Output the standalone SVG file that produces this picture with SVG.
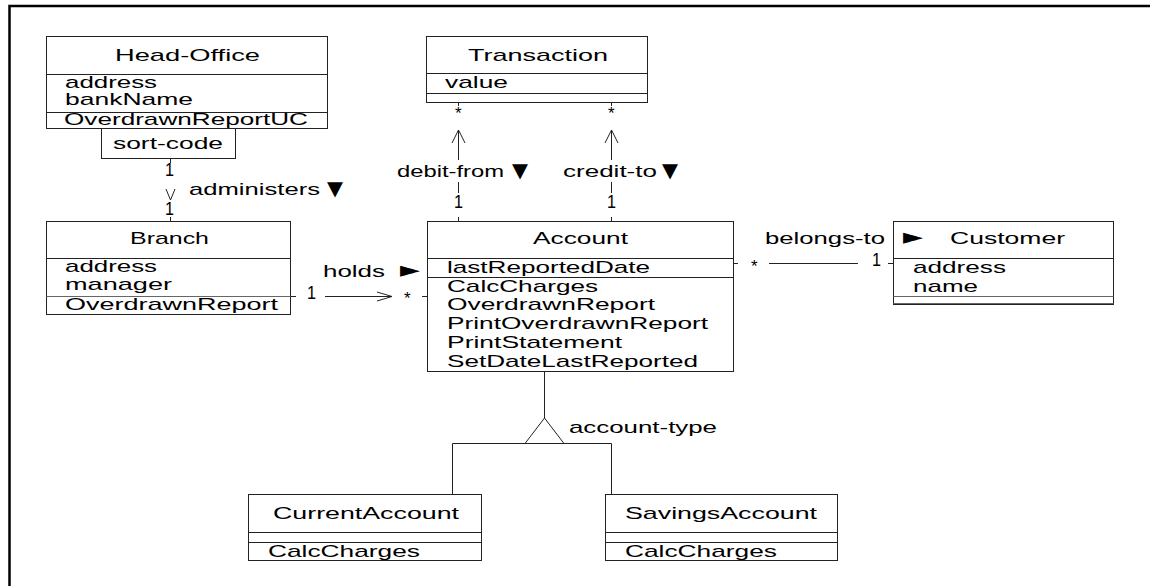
<svg xmlns="http://www.w3.org/2000/svg" width="1150" height="586" viewBox="0 0 1150 586">
<style>
.t{font-family:"Liberation Sans",Arial,sans-serif;font-size:17px;fill:#000}
.s{font-family:"DejaVu Sans","Liberation Sans",sans-serif;fill:#000}
.m{font-family:"Liberation Sans",Arial,sans-serif;font-size:18px;fill:#000}
.box{fill:#fff;stroke:#222;stroke-width:1}
.ln{stroke:#222;stroke-width:1;fill:none}
.g{stroke:#666;stroke-width:1;fill:none}
.frame{stroke:#000;stroke-width:2.5;fill:none}
</style>
<rect width="1150" height="586" fill="#fff"/>
<path class="frame" d="M9.5,586 V6 H1150"/>

<g id="connectors">
  <path class="ln" d="M170.5,158 V163 M170.5,217 V221"/>
  <path class="ln" d="M166,189 L170.5,200 L175,189"/>
  <path class="ln" d="M458.5,102 V106 M458.5,130 V160 M458.5,182 V193 M458.5,217 V221"/>
  <path class="ln" d="M452,143 L458.5,130 L465,143"/>
  <path class="ln" d="M611.5,102 V106 M611.5,130 V160 M611.5,182 V193 M611.5,217 V221"/>
  <path class="ln" d="M605,143 L611.5,130 L618,143"/>
  <path class="ln" d="M290,296.5 H296 M325,296.5 H392 M422,296.5 H427"/>
  <path class="ln" d="M377,292 L392,296.5 L377,301"/>
  <path class="ln" d="M733,263.5 H738 M769,263.5 H858 M888,263.5 H893"/>
  <path class="ln" d="M544.5,372 V418 M452.5,494 V443.5 H611.5 V494"/>
  <polygon points="544.5,418 525,443.5 564,443.5" fill="#fff" stroke="#222" stroke-width="1"/>
</g>

<g id="head-office">
  <rect class="box" x="46.5" y="36.5" width="281" height="92"/>
  <path class="ln" d="M46.5,74.5 H327.5 M46.5,112.5 H327.5"/>
  <text class="t" x="115" y="61" textLength="145" lengthAdjust="spacingAndGlyphs">Head-Office</text>
  <text class="t" x="65" y="88" textLength="92" lengthAdjust="spacingAndGlyphs">address</text>
  <text class="t" x="65" y="105" textLength="128" lengthAdjust="spacingAndGlyphs">bankName</text>
  <text class="t" x="64" y="125" textLength="244" lengthAdjust="spacingAndGlyphs">OverdrawnReportUC</text>
  <rect class="box" x="101.5" y="128.5" width="134" height="30"/>
  <text class="t" x="113" y="149" textLength="110" lengthAdjust="spacingAndGlyphs">sort-code</text>
</g>

<g id="transaction">
  <rect class="box" x="426.5" y="36.5" width="221" height="66"/>
  <path class="ln" d="M426.5,73.5 H647.5 M426.5,93.5 H647.5"/>
  <text class="t" x="468" y="61" textLength="140" lengthAdjust="spacingAndGlyphs">Transaction</text>
  <text class="t" x="445" y="88" textLength="63" lengthAdjust="spacingAndGlyphs">value</text>
</g>

<g id="branch">
  <rect class="box" x="46.5" y="221.5" width="244" height="93"/>
  <path class="ln" d="M46.5,258.5 H290.5"/>
  <path class="g" d="M46.5,296.5 H290.5"/>
  <text class="t" x="130" y="244" textLength="79" lengthAdjust="spacingAndGlyphs">Branch</text>
  <text class="t" x="65" y="272" textLength="92" lengthAdjust="spacingAndGlyphs">address</text>
  <text class="t" x="65" y="290" textLength="107" lengthAdjust="spacingAndGlyphs">manager</text>
  <text class="t" x="65" y="310" textLength="213" lengthAdjust="spacingAndGlyphs">OverdrawnReport</text>
</g>

<g id="account">
  <rect class="box" x="427.5" y="221.5" width="306" height="150"/>
  <path class="ln" d="M427.5,258.5 H733.5 M427.5,277.5 H733.5"/>
  <text class="t" x="533" y="244" textLength="95" lengthAdjust="spacingAndGlyphs">Account</text>
  <text class="t" x="447" y="273" textLength="203" lengthAdjust="spacingAndGlyphs">lastReportedDate</text>
  <text class="t" x="447" y="292" textLength="151" lengthAdjust="spacingAndGlyphs">CalcCharges</text>
  <text class="t" x="447" y="310" textLength="208" lengthAdjust="spacingAndGlyphs">OverdrawnReport</text>
  <text class="t" x="447" y="329" textLength="261" lengthAdjust="spacingAndGlyphs">PrintOverdrawnReport</text>
  <text class="t" x="447" y="348" textLength="175" lengthAdjust="spacingAndGlyphs">PrintStatement</text>
  <text class="t" x="447" y="367" textLength="251" lengthAdjust="spacingAndGlyphs">SetDateLastReported</text>
</g>

<g id="customer">
  <rect class="box" x="893.5" y="221.5" width="220" height="83"/>
  <path class="ln" d="M893.5,258.5 H1113.5"/>
  <path class="g" d="M893.5,296.5 H1113.5 M893.5,303.5 H1113.5"/>
  <text class="t" x="950" y="244" textLength="115" lengthAdjust="spacingAndGlyphs">Customer</text>
  <text class="t" x="913" y="273" textLength="93" lengthAdjust="spacingAndGlyphs">address</text>
  <text class="t" x="913" y="292" textLength="65" lengthAdjust="spacingAndGlyphs">name</text>
</g>

<g id="current-account">
  <rect class="box" x="248.5" y="494.5" width="233" height="66"/>
  <path class="ln" d="M248.5,532.5 H481.5 M248.5,542.5 H481.5"/>
  <text class="t" x="273" y="519" textLength="186" lengthAdjust="spacingAndGlyphs">CurrentAccount</text>
  <text class="t" x="268" y="557" textLength="152" lengthAdjust="spacingAndGlyphs">CalcCharges</text>
</g>

<g id="savings-account">
  <rect class="box" x="605.5" y="494.5" width="232" height="66"/>
  <path class="ln" d="M605.5,532.5 H837.5 M605.5,542.5 H837.5"/>
  <text class="t" x="625" y="519" textLength="192" lengthAdjust="spacingAndGlyphs">SavingsAccount</text>
  <text class="t" x="625" y="557" textLength="152" lengthAdjust="spacingAndGlyphs">CalcCharges</text>
</g>

<g id="labels">
  <text class="m" x="165" y="176" textLength="9" lengthAdjust="spacingAndGlyphs">1</text>
  <text class="m" x="165" y="215" textLength="9" lengthAdjust="spacingAndGlyphs">1</text>
  <text class="t" x="189" y="195"><tspan textLength="131" lengthAdjust="spacingAndGlyphs">administers</tspan><tspan class="s" x="327" font-size="20" textLength="16" lengthAdjust="spacingAndGlyphs">▼</tspan></text>
  <text class="t" x="455" y="119">*</text>
  <text class="t" x="608" y="119">*</text>
  <text class="t" x="397" y="177"><tspan textLength="107" lengthAdjust="spacingAndGlyphs">debit-from</tspan><tspan class="s" x="512" font-size="20" textLength="16" lengthAdjust="spacingAndGlyphs">▼</tspan></text>
  <text class="t" x="563" y="177"><tspan textLength="94" lengthAdjust="spacingAndGlyphs">credit-to</tspan><tspan class="s" x="662" font-size="20" textLength="16" lengthAdjust="spacingAndGlyphs">▼</tspan></text>
  <text class="m" x="454" y="208" textLength="9" lengthAdjust="spacingAndGlyphs">1</text>
  <text class="m" x="607" y="208" textLength="9" lengthAdjust="spacingAndGlyphs">1</text>
  <text class="t" x="323" y="277"><tspan textLength="62" lengthAdjust="spacingAndGlyphs">holds</tspan><tspan class="s" x="400" font-size="22" textLength="20" lengthAdjust="spacingAndGlyphs">►</tspan></text>
  <text class="m" x="307" y="299" textLength="9" lengthAdjust="spacingAndGlyphs">1</text>
  <text class="t" x="404" y="304">*</text>
  <text class="t" x="765" y="244"><tspan textLength="120" lengthAdjust="spacingAndGlyphs">belongs-to</tspan><tspan class="s" x="903" font-size="22" textLength="20" lengthAdjust="spacingAndGlyphs">►</tspan></text>
  <text class="t" x="751" y="272">*</text>
  <text class="m" x="872" y="266" textLength="9" lengthAdjust="spacingAndGlyphs">1</text>
  <text class="t" x="569" y="433" textLength="148" lengthAdjust="spacingAndGlyphs">account-type</text>
</g>
</svg>
